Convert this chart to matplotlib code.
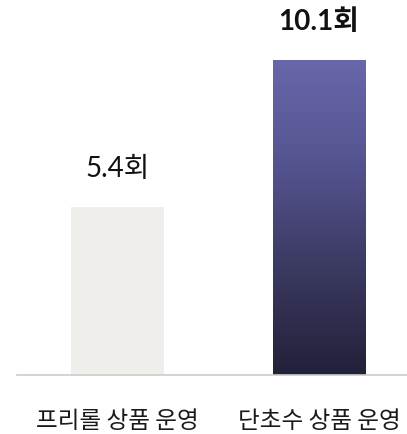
import matplotlib
matplotlib.use('Agg')
import matplotlib.pyplot as plt
import numpy as np
from matplotlib.colors import LinearSegmentedColormap

plt.rcParams['font.family'] = ['Noto Sans CJK KR', 'DejaVu Sans']

categories = ['프리롤 상품 운영', '단초수 상품 운영']
values = [5.4, 10.1]
value_labels = ['5.4회', '10.1회']

fig = plt.figure(figsize=(4.07, 4.34), dpi=100)
ax = fig.add_axes([17 / 407, (434 - 375) / 434, 390 / 407, 375 / 434])

x = np.arange(len(categories))
width = 0.4615
bars = ax.bar(x, values, width, color=['#efeeea', 'none'], zorder=2)

# gradient fill for the second bar
grad = LinearSegmentedColormap.from_list('g', ['#22213a', '#3a3960', '#55538f', '#6967ab'])
b = bars[1]
x0, y0 = b.get_x(), b.get_y()
img = ax.imshow(np.linspace(0, 1, 256).reshape(-1, 1), cmap=grad, origin='lower',
                extent=[x0, x0 + b.get_width(), y0, y0 + b.get_height()],
                aspect='auto', zorder=2)
img.set_clip_path(b)

ax.set_xlim(-0.4988, 1.4367)
ax.set_ylim(0, 12.02)

for xi, v, lab, bold in zip(x, values, value_labels, [False, True]):
    ax.annotate(lab, xy=(xi, v), xytext=(0, 27), textcoords='offset points',
                ha='center', va='center', fontsize=20,
                family=['Lato', 'Noto Sans CJK KR'],
                fontweight='bold' if bold else 'normal', color='#111111')

ax.set_xticks(x)
ax.set_xticklabels(categories, fontsize=17, color='#1a1a1a')
ax.tick_params(axis='x', length=0, pad=25)
ax.set_yticks([])
for s in ['top', 'right', 'left']:
    ax.spines[s].set_visible(False)
ax.spines['bottom'].set_color('#cccccc')
ax.spines['bottom'].set_linewidth(1.2)

fig.savefig('out.png', dpi=100)
